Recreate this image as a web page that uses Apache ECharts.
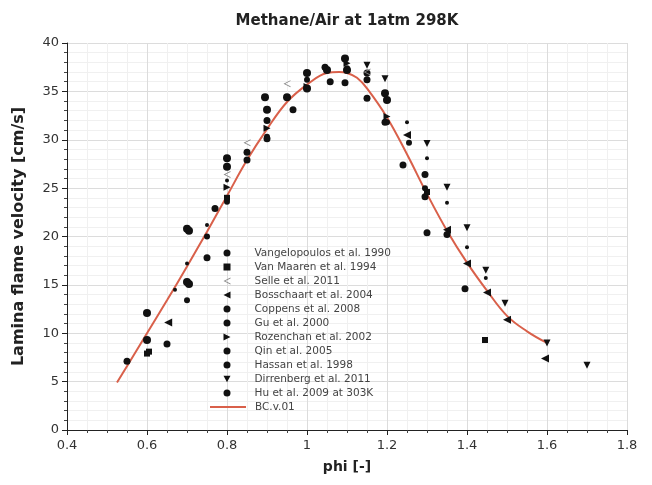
<!DOCTYPE html>
<html><head><meta charset="utf-8">
<script src="https://cdn.jsdelivr.net/npm/echarts@6/dist/echarts.min.js"></script>
<style>html,body{margin:0;padding:0;background:#fff}#c{width:652px;height:485px}</style>
</head><body><div id="c"></div>
<script>
const xTicks = [0.4,0.6,0.8,1,1.2,1.4,1.6,1.8];
const yTicks = [0,5,10,15,20,25,30,35,40];

const vangelopoulos = [[0.55,7.1],[0.77,22.9],[0.85,28.7],[0.9,32.0],[1.045,37.5],[1.15,36.9],[1.295,26.4]];
const vanMaaren = [[0.6,7.9],[0.605,8.1],[0.8,24.0],[1.3,24.6],[1.445,9.3]];
const selle = [[0.8,26.4],[0.85,29.7],[0.95,35.8],[1.15,37.0]];
const bosschaart = [[0.653,11.1],[1.25,30.5],[1.35,20.7],[1.4,17.2],[1.45,14.2],[1.5,11.4],[1.595,7.4]];
const coppens = [[0.67,14.5],[0.7,17.2],[0.75,21.2],[0.8,25.8],[1.25,31.8],[1.3,28.1],[1.35,23.5],[1.4,18.9],[1.447,15.7]];
const gu = [[0.6,9.3],[0.7,15.3],[0.705,15.1],[0.8,27.2],[0.9,33.1],[1.0,35.3],[1.1,37.2],[1.2,34.1]];
const rozenchan = [[0.8,25.1],[0.9,31.2],[1.0,35.5],[1.1,37.9],[1.2,32.4]];
const qin = [[0.7,13.4],[0.75,20.0],[0.8,23.6],[0.9,30.3],[1.0,36.2],[1.1,37.4],[1.2,31.8],[1.255,29.7],[1.295,25.0]];
const hassan = [[0.6,12.1],[0.7,20.8],[0.705,20.6],[0.8,28.1],[0.895,34.4],[0.95,34.4],[1.0,36.9],[1.05,37.2],[1.095,38.4],[1.195,34.8]];
const dirrenberg = [[1.15,37.7],[1.195,36.3],[1.3,29.6],[1.35,25.1],[1.4,20.9],[1.447,16.5],[1.495,13.1],[1.6,9.0],[1.7,6.7]];
const hu = [[0.65,8.9],[0.75,17.8],[0.85,27.9],[0.9,30.1],[0.965,33.1],[1.058,36.0],[1.095,35.9],[1.15,34.3],[1.15,36.2],[1.195,31.8],[1.24,27.4],[1.295,24.1],[1.3,20.4],[1.35,20.2],[1.395,14.6]];

const bcPhi = [0.525,0.55,0.6,0.65,0.7,0.75,0.8,0.85,0.9,0.95,1.0,1.05,1.08,1.1,1.125,1.15,1.2,1.25,1.3,1.35,1.4,1.45,1.5,1.55,1.6];
const bcV   = [4.9,6.6,10.0,13.4,16.9,20.5,24.2,27.9,31.1,33.9,35.7,36.9,37.0,36.9,36.4,35.3,32.3,28.5,24.4,20.6,17.3,14.4,11.8,10.2,9.0];

const scatterNames = ['Vangelopoulos et al. 1990','Van Maaren et al. 1994','Selle et al. 2011','Bosschaart et al. 2004',
  'Coppens et al. 2008','Gu et al. 2000','Rozenchan et al. 2002','Qin et al. 2005','Hassan et al. 1998',
  'Dirrenberg et al. 2011','Hu et al. 2009 at 303K'];
const lineName = 'BC.v.01';

const FONT = 'DejaVu Sans';
const BLACK = '#111';
const RED = '#d9604a';
const chevron = 'path://M10,0L0,5L10,10L10,8.6L2.6,5L10,1.4Z';
const triLeft = 'path://M0,5L10,0L10,10Z';
const triRight = 'path://M10,5L0,0L0,10Z';
const triDown = 'path://M0,0L10,0L5,9Z';

function sc(name, data, symbol, size, color){
  return {type:'scatter', name, data, symbol, symbolSize:size,
    itemStyle:{color:color||BLACK, opacity:1}, z:3};
}
const legendIcons = ['circle','rect',chevron,triLeft,'circle','circle',triRight,'circle','circle',triDown,'circle'];
const legendText = {fontFamily:FONT, fontSize:10.5, color:'#444', lineHeight:11};

const chart = echarts.init(document.getElementById('c'), null, {renderer:'canvas'});
chart.setOption({
  animation:false,
  backgroundColor:'#fff',
  title:{text:'Methane/Air at 1atm 298K', left:342, textAlign:'center', top:9,
    textStyle:{fontFamily:FONT, fontSize:15, fontWeight:'bold', color:'#222'}},
  grid:{left:67, right:25, top:43, bottom:55},
  xAxis:{type:'value', min:xTicks[0], max:xTicks[xTicks.length-1], interval:0.2,
    name:'phi [-]', nameLocation:'middle', nameGap:30,
    nameTextStyle:{fontFamily:FONT, fontSize:14, fontWeight:'bold', color:'#222'},
    axisLine:{show:true, lineStyle:{color:'#222', width:1}},
    axisTick:{show:true, length:5, lineStyle:{color:'#222'}},
    minorTick:{show:true, splitNumber:4, length:3, lineStyle:{color:'#444'}},
    axisLabel:{fontFamily:FONT, fontSize:13, color:'#333', margin:9,
      formatter:v=>{const t=xTicks.find(a=>Math.abs(a-v)<1e-6); return t===undefined?'':String(t);}},
    splitLine:{show:true, lineStyle:{color:'#dcdcdc', width:1}},
    minorSplitLine:{show:true, lineStyle:{color:'#f0f0f0', width:1}}},
  yAxis:{type:'value', min:yTicks[0], max:yTicks[yTicks.length-1], interval:5,
    name:'Lamina flame velocity [cm/s]', nameLocation:'middle', nameGap:40,
    nameTextStyle:{fontFamily:FONT, fontSize:16, fontWeight:'bold', color:'#222'},
    axisLine:{show:true, lineStyle:{color:'#222', width:1}},
    axisTick:{show:true, length:5, lineStyle:{color:'#222'}},
    minorTick:{show:true, splitNumber:5, length:3, lineStyle:{color:'#444'}},
    axisLabel:{fontFamily:FONT, fontSize:13, color:'#333', margin:8},
    splitLine:{show:true, lineStyle:{color:'#dcdcdc', width:1}},
    minorSplitLine:{show:true, lineStyle:{color:'#f0f0f0', width:1}}},
  legend:[
    {orient:'vertical', left:223.5, top:247.5, padding:0, itemWidth:7, itemHeight:7, itemGap:3,
     textStyle:Object.assign({padding:[0,0,0,19]}, legendText),
     data:scatterNames.map((n,i)=>({name:n, icon:legendIcons[i]}))},
    {orient:'vertical', left:210, top:401.5, padding:0, itemWidth:36, itemHeight:2, itemGap:3,
     textStyle:Object.assign({padding:[0,0,0,4]}, legendText),
     data:[{name:lineName, icon:'rect', itemStyle:{color:RED}}]}
  ],
  series:[
    sc(scatterNames[0], vangelopoulos, 'circle', 7),
    sc(scatterNames[1], vanMaaren, 'rect', 6),
    sc(scatterNames[2], selle, chevron, 7, '#888'),
    sc(scatterNames[3], bosschaart, triLeft, 8),
    sc(scatterNames[4], coppens, 'circle', 4),
    sc(scatterNames[5], gu, 'circle', 8),
    sc(scatterNames[6], rozenchan, triRight, 7),
    sc(scatterNames[7], qin, 'circle', 6),
    sc(scatterNames[8], hassan, 'circle', 8),
    sc(scatterNames[9], dirrenberg, triDown, 7),
    sc(scatterNames[10], hu, 'circle', 7),
    {type:'line', name:lineName, data:bcPhi.map((p,i)=>[p,bcV[i]]), smooth:0.4, symbol:'none',
      showSymbol:false, lineStyle:{color:RED, width:2}, itemStyle:{color:RED}, z:2}
  ]
});
</script></body></html>
